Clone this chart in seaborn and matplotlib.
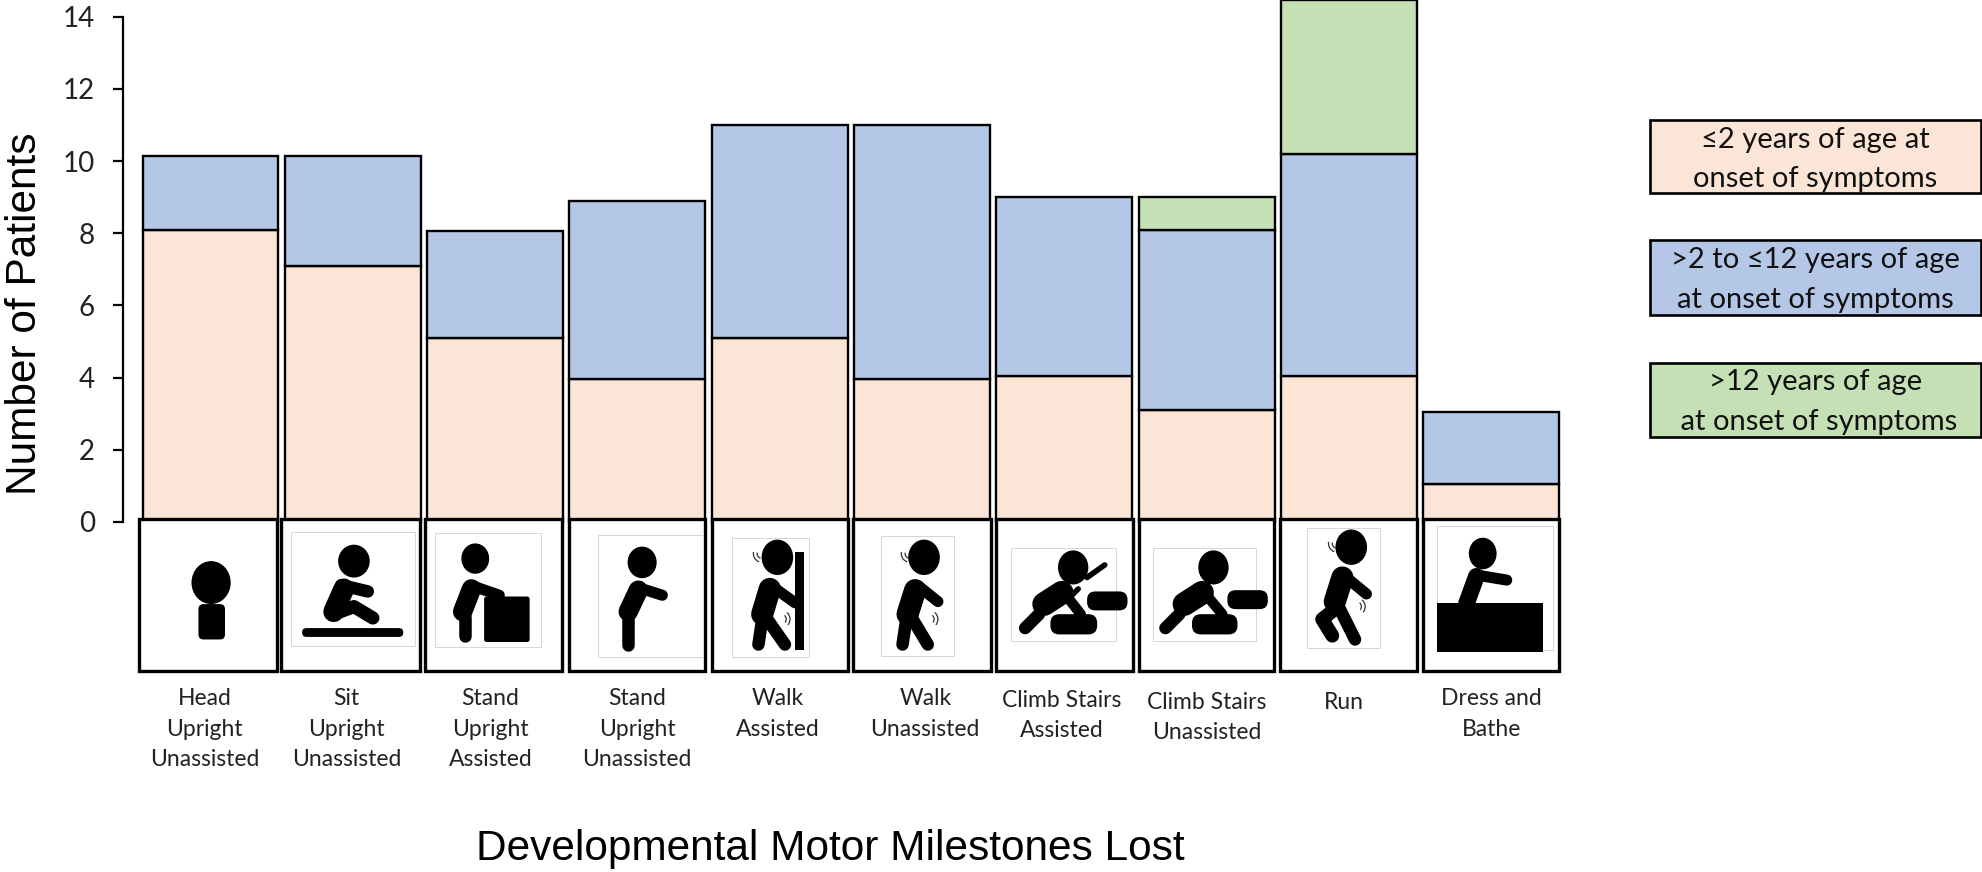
import numpy as np
import pandas as pd
import matplotlib
matplotlib.use('Agg')
import matplotlib.pyplot as plt
import seaborn as sns
from matplotlib.patches import Rectangle, FancyBboxPatch, Ellipse, Arc

# Values
milestones = ['Head\nUpright\nUnassisted', 'Sit\nUpright\nUnassisted', 'Stand\nUpright\nAssisted',
              'Stand\nUpright\nUnassisted', 'Walk\nAssisted', 'Walk\nUnassisted',
              'Climb Stairs\nAssisted', 'Climb Stairs\nUnassisted', 'Run', 'Dress and\nBathe']
under_2 = [8.1, 7.1, 5.1, 3.95, 5.1, 3.95, 4.05, 3.1, 4.05, 1.05]
from_2_to_12 = [2.05, 3.05, 2.95, 4.95, 5.9, 7.05, 4.95, 5.0, 6.15, 2.0]
over_12 = [0, 0, 0, 0, 0, 0, 0, 0.9, 4.25, 0]
legend_labels = ['≤2 years of age at\nonset of symptoms',
                 '>2 to ≤12 years of age\nat onset of symptoms',
                 '>12 years of age\n at onset of symptoms']
y_ticks = [0, 2, 4, 6, 8, 10, 12, 14]

colors = ['#FBE5D6', '#B4C7E7', '#C5E0B4']

sns.set_theme(style='white')
plt.rcParams['font.family'] = ['Liberation Sans', 'DejaVu Sans']

W, H = 1982, 872
fig = plt.figure(figsize=(W / 100, H / 100), dpi=100)

# axes placed so that one category is 142.3 px wide and one patient 36.1 px high
ax = fig.add_axes([123 / W, (H - 522) / H, (1562 - 123) / W, 522 / H])

bottom = np.zeros(len(milestones))
for values, color in zip([under_2, from_2_to_12, over_12], colors):
    values = np.array(values)
    mask = values > 0
    sns.barplot(x=np.array(milestones)[mask], y=values[mask], bottom=bottom[mask],
                order=milestones, color=color, saturation=1, width=0.955,
                edgecolor='black', linewidth=1.7, ax=ax, clip_on=False)
    bottom = bottom + values

ax.set_xlim((123 - 210.5) / 142.3, (1562 - 210.5) / 142.3)
ax.set_ylim(0, 14.46)
ax.set_xticks([])
ax.set_xlabel('')
ax.set_ylabel('')
ax.set_yticks(y_ticks)
ax.tick_params(axis='y', left=True, length=7.2, width=1.6, color='black', pad=13, labelsize=20)
for label in ax.get_yticklabels():
    label.set_family('Lato')
    label.set_color('#222222')
sns.despine(ax=ax, bottom=True)
ax.spines['left'].set_bounds(0, 14)
ax.spines['left'].set_linewidth(1.6)
ax.spines['left'].set_color('black')
ax.patch.set_alpha(0)

# overlay in the coordinates of the picture for the pictograms, labels and legend
ov = fig.add_axes([0, 0, 1, 1])
ov.set_xlim(0, 1568)
ov.set_ylim(690, 0)
ov.axis('off')
ov.patch.set_alpha(0)


def box(x0, y0, x1, y1, **kw):
    ov.add_patch(Rectangle((x0, y0), x1 - x0, y1 - y0, **kw))


def round_box(x0, y0, x1, y1, r=3):
    ov.add_patch(FancyBboxPatch((x0 + r, y0 + r), x1 - x0 - 2 * r, y1 - y0 - 2 * r,
                                boxstyle=f'round,pad={r},rounding_size={r}',
                                fc='black', ec='none', zorder=3))


def head(x, y, rx, ry):
    ov.add_patch(Ellipse((x, y), 2 * rx, 2 * ry, fc='black', ec='none', zorder=3))


def limb(points, lw=9.0):
    xs, ys = zip(*points)
    ov.plot(xs, ys, color='black', lw=lw, solid_capstyle='round', solid_joinstyle='round', zorder=3)


def wiggle(x, y, start, end):
    for r in (4, 7):
        ov.add_patch(Arc((x, y), 2 * r, 2 * r, theta1=start, theta2=end, color='#333333', lw=0.9, zorder=3))


# frames under each bar
frames = [(110, 219), (222, 332), (336, 445), (450, 558), (563, 671),
          (675, 784), (788, 896), (901, 1008), (1013, 1121), (1126, 1233)]
for x0, x1 in frames:
    box(x0, 411, x1, 531, fc='white', ec='black', lw=2.4, zorder=1)

# thin frames of the pictures
pictures = [(230, 421, 328, 511), (344, 422, 428, 512), (473, 423, 556, 520), (579, 426, 640, 520),
            (697, 424, 755, 519), (800, 434, 883, 507), (912, 434, 994, 507), (1034, 418, 1092, 513),
            (1137, 416, 1229, 514)]
for x0, y0, x1, y1 in pictures:
    box(x0, y0, x1, y1, fc='white', ec='#d6d6d6', lw=0.7, zorder=1.5)

# head upright
head(167, 461, 15.5, 17)
round_box(157, 478, 178, 506, r=4)

# sit
head(280, 444, 12.5, 13)
limb([(272, 466), (264, 484)], lw=15)
limb([(270, 463), (291, 468)], lw=9)
limb([(264, 486), (280, 480), (295, 489)], lw=9.5)
round_box(239, 497, 319, 504, r=3.4)

# stand assisted
head(376, 442, 11, 12)
limb([(373, 466), (366, 484)], lw=14)
limb([(372, 463), (395, 471)], lw=8)
limb([(368, 488), (368, 503)], lw=9)
round_box(383, 472, 419, 508, r=2)

# stand unassisted
head(508, 445, 11.5, 12.5)
limb([(505, 467), (497, 484)], lw=14)
limb([(505, 465), (524, 471)], lw=8)
limb([(497, 488), (497, 510)], lw=9)

# walk assisted
head(615, 441, 12.5, 14)
limb([(609, 466), (603, 486)], lw=16)
limb([(611, 464), (629, 477)], lw=8)
limb([(603, 490), (600, 510)], lw=9)
limb([(607, 490), (621, 510)], lw=9)
box(629, 437, 636, 514, fc='black', ec='none', zorder=3)
wiggle(603, 438, 110, 190)
wiggle(618, 490, -50, 40)

# walk unassisted
head(731, 441, 12.5, 14)
limb([(724, 467), (718, 486)], lw=16)
limb([(727, 464), (742, 476)], lw=8)
limb([(717, 490), (714, 510)], lw=9)
limb([(722, 490), (734, 510)], lw=9)
wiggle(720, 438, 110, 190)
wiggle(735, 490, -50, 40)

# climb stairs assisted
head(849, 449, 12, 13.5)
limb([(840, 469), (826, 478)], lw=17)
limb([(841, 468), (855, 486)], lw=7.5)
limb([(822, 486), (811, 497)], lw=9)
limb([(847, 472), (853, 466)], lw=4)
limb([(860, 457), (874, 447)], lw=4)
round_box(860, 468, 892, 483, r=6.5)
round_box(831, 486, 868, 502, r=7)

# climb stairs unassisted
head(960, 449, 12, 13.5)
limb([(951, 469), (937, 478)], lw=17)
limb([(952, 468), (967, 486)], lw=7.5)
limb([(933, 486), (922, 497)], lw=9)
round_box(971, 467, 1003, 482, r=6.5)
round_box(943, 486, 979, 502, r=7)

# run
head(1069, 433, 12.5, 14)
limb([(1062, 457), (1056, 476)], lw=16)
limb([(1064, 456), (1081, 470)], lw=8)
limb([(1056, 482), (1046, 490), (1054, 503)], lw=10)
limb([(1060, 482), (1072, 506)], lw=9)
wiggle(1058, 430, 110, 190)
wiggle(1073, 480, -50, 40)

# dress and bathe
head(1173, 438, 11, 12.5)
limb([(1168, 456), (1160, 478)], lw=12)
limb([(1168, 455), (1192, 459)], lw=8)
box(1137, 477, 1221, 516, fc='black', ec='none', zorder=3)

# milestone labels
label_x = [162, 274, 388, 504, 615, 732, 840, 955, 1063, 1180]
label_y = [553, 553, 553, 553, 553, 553, 554, 556, 556, 553]
for name, x, y in zip(milestones, label_x, label_y):
    for i, line in enumerate(name.split('\n')):
        ov.text(x, y + i * 24, line, ha='center', va='center', family='Lato',
                fontsize=16.5, color='#222222')

# legend
legend_y = [(95, 153), (190, 249), (287, 346)]
for (y0, y1), text, color in zip(legend_y, legend_labels, colors):
    box(1305, y0, 1567, y1, fc=color, ec='black', lw=1.9, clip_on=False)
    line1, line2 = text.split('\n')
    ov.text(1436, y0 + 15.5, line1, ha='center', va='center', family='Lato', fontsize=21, color='#111111')
    ov.text(1436, y0 + 47, line2, ha='center', va='center', family='Lato', fontsize=21, color='#111111')

# axis titles
ov.text(20, 248, 'Number of Patients', rotation=90, ha='center', va='center', fontsize=30.5, color='black')
ov.text(657, 672, 'Developmental Motor Milestones Lost', ha='center', va='center', fontsize=30.5, color='black')

fig.savefig('out.png', dpi=100)
